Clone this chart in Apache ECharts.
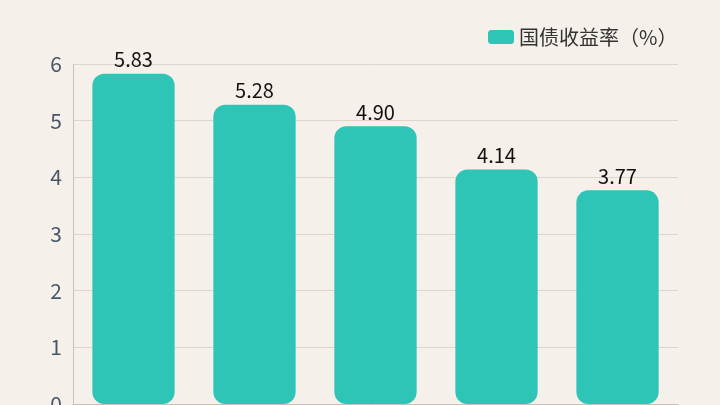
<!DOCTYPE html>
<html>
<head>
<meta charset="utf-8">
<script src="https://cdn.jsdelivr.net/npm/echarts@6/dist/echarts.min.js"></script>
<style>
  html, body { margin: 0; padding: 0; background: #f5f0ea; }
  #chart { width: 720px; height: 405px; }
</style>
</head>
<body>
<div id="chart"></div>
<script>
// category names are cut off in the reference, so they stay hidden
const categories = ["1", "2", "3", "4", "5"];
const yields = [5.83, 5.28, 4.90, 4.14, 3.77];
const seriesName = "国债收益率（%）";

const chart = echarts.init(document.getElementById("chart"));
chart.setOption({
  backgroundColor: "#f5f0ea",
  textStyle: { fontFamily: "Noto Sans CJK SC" },
  legend: {
    data: [seriesName],
    left: 483,
    top: 22,
    itemWidth: 26,
    itemHeight: 14,
    itemGap: 8,
    icon: "roundRect",
    textStyle: { fontSize: 20, color: "#333333", fontFamily: "Noto Sans CJK SC" },
  },
  grid: { left: 73, right: 42, top: 64, bottom: 1, containLabel: false, outerBoundsMode: "none" },
  xAxis: {
    type: "category",
    data: categories,
    axisLine: { lineStyle: { color: "#c8c2bb" } },
    axisTick: { show: false },
    axisLabel: { show: false },
  },
  yAxis: {
    type: "value",
    min: 0,
    max: 6,
    interval: 1,
    axisLine: { show: true, lineStyle: { color: "#c8c2bb" } },
    axisTick: { show: false },
    axisLabel: { fontSize: 21, color: "#4a5568", margin: 11 },
    splitLine: { lineStyle: { color: "#ddd6ce" } },
  },
  series: [
    {
      name: seriesName,
      type: "bar",
      data: yields,
      barWidth: "68%",
      itemStyle: { color: "#2ec4b6", borderRadius: 12 },
      label: {
        show: true,
        position: "top",
        distance: 4,
        fontSize: 20,
        color: "#111111",
        formatter: (p) => p.value.toFixed(2),
      },
    },
  ],
});
</script>
</body>
</html>
